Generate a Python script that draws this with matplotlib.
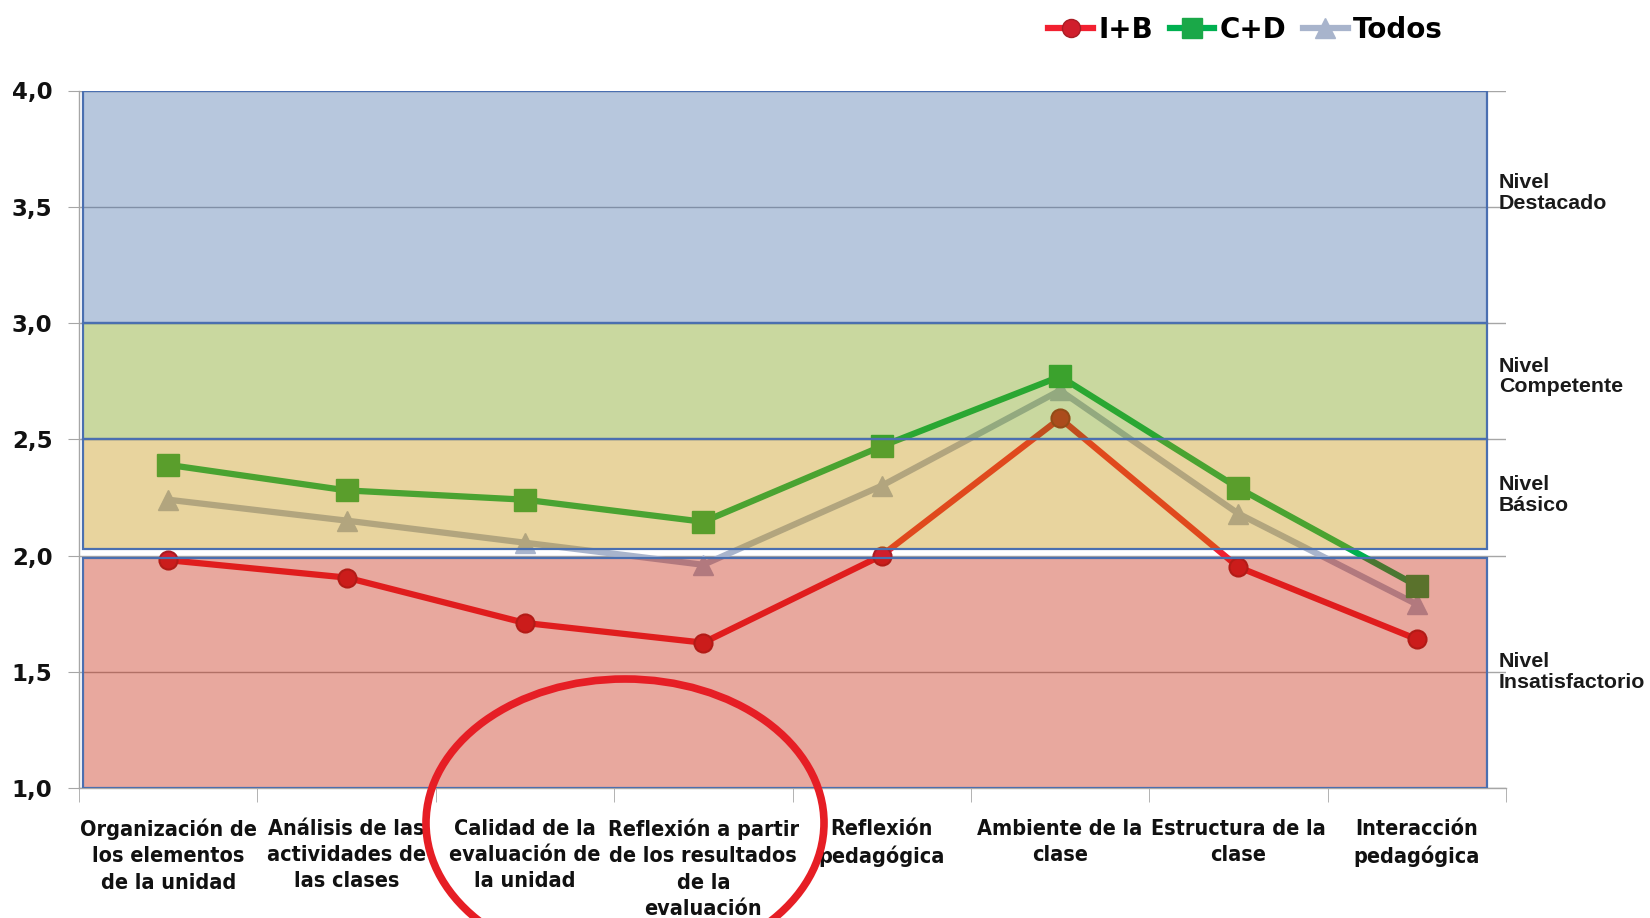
import matplotlib
matplotlib.use("Agg")
import matplotlib.pyplot as plt
from matplotlib.patches import Rectangle, Ellipse
from matplotlib.lines import Line2D
import matplotlib.transforms as mtransforms
from matplotlib import font_manager

categories = [
    "Organización de\nlos elementos\nde la unidad",
    "Análisis de las\nactividades de\nlas clases",
    "Calidad de la\nevaluación de\nla unidad",
    "Reflexión a partir\nde los resultados\nde la\nevaluación",
    "Reflexión\npedagógica",
    "Ambiente de la\nclase",
    "Estructura de la\nclase",
    "Interacción\npedagógica",
]
ib = [1.98, 1.905, 1.71, 1.625, 2.0, 2.59, 1.95, 1.64]
cd = [2.39, 2.28, 2.24, 2.145, 2.47, 2.77, 2.29, 1.87]
todos = [2.24, 2.15, 2.055, 1.96, 2.30, 2.71, 2.18, 1.79]
series_names = ["I+B", "C+D", "Todos"]
yticks = [1.0, 1.5, 2.0, 2.5, 3.0, 3.5, 4.0]
ytick_labels = ["1,0", "1,5", "2,0", "2,5", "3,0", "3,5", "4,0"]
bands = [(3.0, 4.0), (2.5, 3.0), (2.03, 2.5), (1.0, 1.99)]
band_labels = ["Nivel\nDestacado", "Nivel\nCompetente", "Nivel\nBásico", "Nivel\nInsatisfactorio"]
band_label_y = [3.56, 2.77, 2.26, 1.50]

ttf = font_manager.fontManager.ttflist
has_cond = any(f.name == "DejaVu Sans" and str(f.stretch) in ("condensed", "semi-condensed", "75", "87")
               for f in ttf)
if has_cond:
    xlab_kw = dict(family="DejaVu Sans", fontstretch="condensed", fontsize=15.5)
else:
    xlab_kw = dict(family="DejaVu Sans", fontsize=13.8)

W, H = 1650, 918
fig = plt.figure(figsize=(W / 100, H / 100), dpi=100)
ax = fig.add_axes([79 / W, 1 - 788 / H, 1427 / W, (788 - 90.5) / H])

x = list(range(len(categories)))
ax.set_xlim(-0.5, len(categories) - 0.5)
ax.set_ylim(1.0, 4.0)

for yv in yticks:
    ax.axhline(yv, color="#a6a6a6", lw=1.0, zorder=1)

red_line = "#f22030"
red_mark = "#d01e2c"
green_line = "#00b050"
green_mark = "#1aa848"
gray_line = "#a8b4cc"

ax.plot(x, todos, color=gray_line, lw=4.5, marker="^", ms=15, mfc=gray_line, mec=gray_line, zorder=3)
ax.plot(x, cd, color=green_line, lw=4.5, marker="s", ms=16.5, mfc=green_mark, mec=green_mark, zorder=3)
ax.plot(x, ib, color=red_line, lw=4.5, marker="o", ms=13, mfc=red_mark, mec="#a81c24", mew=1.5, zorder=3)

trans = mtransforms.blended_transform_factory(ax.transAxes, ax.transData)
band_colors = ["#446ca8", "#719903", "#c38e00", "#c31a00"]
x0, x1 = 0.003, 0.9867
for (lo, hi), c in zip(bands, band_colors):
    ax.add_patch(Rectangle((x0, lo), x1 - x0, hi - lo, transform=trans, facecolor=c,
                           alpha=0.38, edgecolor="none", zorder=4))
    ax.add_patch(Rectangle((x0, lo), x1 - x0, hi - lo, transform=trans, facecolor="none",
                           edgecolor="#4a6fb0", lw=1.6, zorder=5))

lab_trans = mtransforms.blended_transform_factory(fig.transFigure, ax.transData)
for lab, yv in zip(band_labels, band_label_y):
    ax.text(1499 / W, yv, lab, transform=lab_trans,
            ha="left", va="center", fontsize=15.4, fontweight="bold", family="Liberation Sans",
            color="#1a1a1a", linespacing=1.1)

for s in ["top", "right"]:
    ax.spines[s].set_visible(False)
for s in ["left", "bottom"]:
    ax.spines[s].set_color("#a6a6a6")
    ax.spines[s].set_linewidth(1.0)

ax.set_yticks(yticks)
ax.set_yticklabels(ytick_labels, fontsize=16.5, fontweight="bold", color="#111111")
ax.tick_params(axis="y", length=8, color="#a6a6a6", pad=11)
ax.set_xticks(x)
ax.set_xticklabels(categories, fontweight="bold", color="#111111",
                   linespacing=1.4, va="top", **xlab_kw)
ax.tick_params(axis="x", length=0, pad=22)
ax.set_xticks([i - 0.5 for i in range(len(categories) + 1)], minor=True)
ax.tick_params(axis="x", which="minor", length=10, color="#a6a6a6")

handles = [
    Line2D([], [], color=red_line, lw=4.5, marker="o", ms=13, mfc=red_mark, mec="#a81c24"),
    Line2D([], [], color=green_line, lw=4.5, marker="s", ms=14, mfc=green_mark, mec=green_mark),
    Line2D([], [], color=gray_line, lw=4.5, marker="^", ms=14, mfc=gray_line, mec=gray_line),
]
leg = fig.legend(handles, series_names, loc="center right", bbox_to_anchor=(1468 / W, 1 - 30 / H),
                 ncol=3, frameon=False, handlelength=1.6, handletextpad=0.2, columnspacing=0.6,
                 prop={"size": 20, "weight": "bold"})

ell = Ellipse((625, H - 823), 398, 288, transform=None, facecolor="none",
              edgecolor="#e61e25", lw=5.5, zorder=10)
fig.patches.append(ell)

fig.savefig("out.png", dpi=100)
